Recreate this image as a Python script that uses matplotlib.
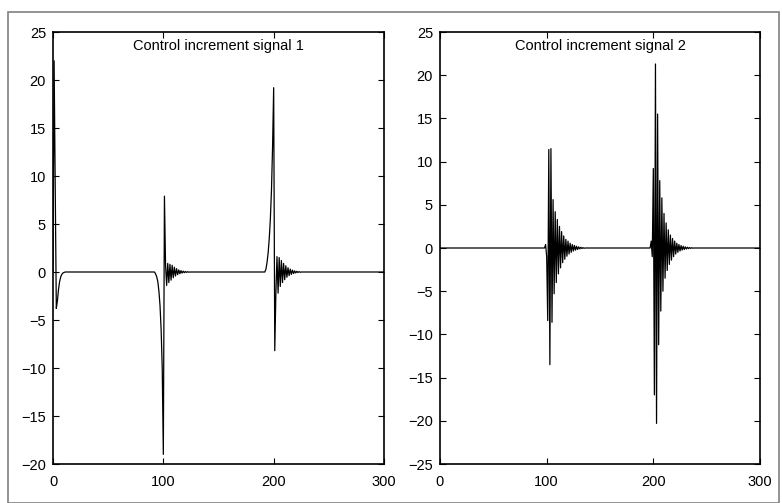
import numpy as np
import matplotlib
matplotlib.use("Agg")
import matplotlib.pyplot as plt
from matplotlib.patches import Rectangle

plt.rcParams['font.family'] = ['Liberation Sans', 'DejaVu Sans']

n_samples = 301
x_ticks = [0, 100, 200, 300]

# signal 1: non-zero stretches (start index, values), zero elsewhere
sig1_start_0 = 0
sig1_vals_0 = [0.0, 22.0, 9.0, -3.8, -3.0, -1.8, -1.0, -0.5, -0.25, -0.1, -0.05, 0.0]

sig1_start_100 = 92
sig1_vals_100 = [0.0, -0.2, -0.5, -1.0, -2.0, -3.5, -6.0, -10.0, -19.0, 7.9,
                 0.8, -1.4, 0.9, -1.1, 0.8, -0.85, 0.7, -0.6, 0.5, -0.42,
                 0.35, -0.28, 0.22, -0.18, 0.14, -0.11, 0.09, -0.07, 0.05,
                 -0.04, 0.03, -0.02, 0.0]

sig1_start_200 = 192
sig1_vals_200 = [0.0, 0.3, 1.0, 2.0, 3.5, 5.5, 8.5, 13.0, 19.2, -8.2,
                 -2.2, 1.6, -2.2, 1.5, -1.5, 1.2, -1.1, 0.9, -0.8, 0.65,
                 -0.55, 0.45, -0.38, 0.3, -0.25, 0.2, -0.16, 0.12, -0.1,
                 0.07, -0.05, 0.04, -0.03, 0.0]

# signal 2: two bursts
sig2_start_100 = 99
sig2_vals_100 = [0.4, -1.0, -8.4, 11.4, -13.5, 11.5, -8.6, 5.6, -5.3, 4.2,
                 -4.0, 3.3, -3.0, 2.5, -2.3, 1.9, -1.7, 1.4, -1.3, 1.0,
                 -0.95, 0.8, -0.7, 0.55, -0.5, 0.4, -0.35, 0.3, -0.25, 0.2,
                 -0.17, 0.13, -0.1, 0.08, -0.06, 0.04, -0.03, 0.0]

sig2_start_200 = 198
sig2_vals_200 = [0.8, -1.0, 9.2, -17.0, 21.3, -20.3, 15.5, -11.2, 7.8, -7.3,
                 5.8, -5.0, 4.0, -3.5, 2.9, -2.6, 2.1, -1.9, 1.5, -1.4,
                 1.1, -1.0, 0.8, -0.7, 0.55, -0.5, 0.4, -0.35, 0.28, -0.24,
                 0.2, -0.17, 0.13, -0.11, 0.09, -0.07, 0.05, -0.04, 0.03,
                 -0.02, 0.0]


def build(parts):
    y = np.zeros(n_samples)
    for start, vals in parts:
        y[start:start + len(vals)] = vals
    return y


t = np.arange(n_samples)
sig1 = build([(sig1_start_0, sig1_vals_0), (sig1_start_100, sig1_vals_100),
              (sig1_start_200, sig1_vals_200)])
sig2 = build([(sig2_start_100, sig2_vals_100), (sig2_start_200, sig2_vals_200)])

W, H = 782, 503
fig = plt.figure(figsize=(W / 100, H / 100), dpi=100)

# grey frame around the figure
fig.patches.append(Rectangle((8 / W, 0), 771 / W, 1 - 12 / H, transform=fig.transFigure,
                             fill=False, edgecolor='#808080', linewidth=1.2))

ax1 = fig.add_axes([53 / W, 39 / H, 331 / W, 432 / H])
ax2 = fig.add_axes([440 / W, 39 / H, 320 / W, 432 / H])

panels = [
    (ax1, sig1, (-20, 25), "Control increment signal 1"),
    (ax2, sig2, (-25, 25), "Control increment signal 2"),
]

for ax, y, ylim, title in panels:
    ax.plot(t, y, color='black', linewidth=0.9)
    ax.set_xlim(0, 300)
    ax.set_ylim(*ylim)
    ax.set_xticks(x_ticks)
    ax.set_yticks(np.arange(ylim[0], ylim[1] + 1, 5))
    ax.tick_params(direction='in', top=True, right=True, length=4,
                   labelsize=10.5, width=0.8)
    ax.tick_params(axis='x', pad=8)
    ax.tick_params(axis='y', pad=5)
    for s in ax.spines.values():
        s.set_linewidth(1.2)
    ax.text(0.5, 0.967, title, transform=ax.transAxes, ha='center', va='center',
            fontsize=10.5)

fig.savefig("out.png", dpi=100)
